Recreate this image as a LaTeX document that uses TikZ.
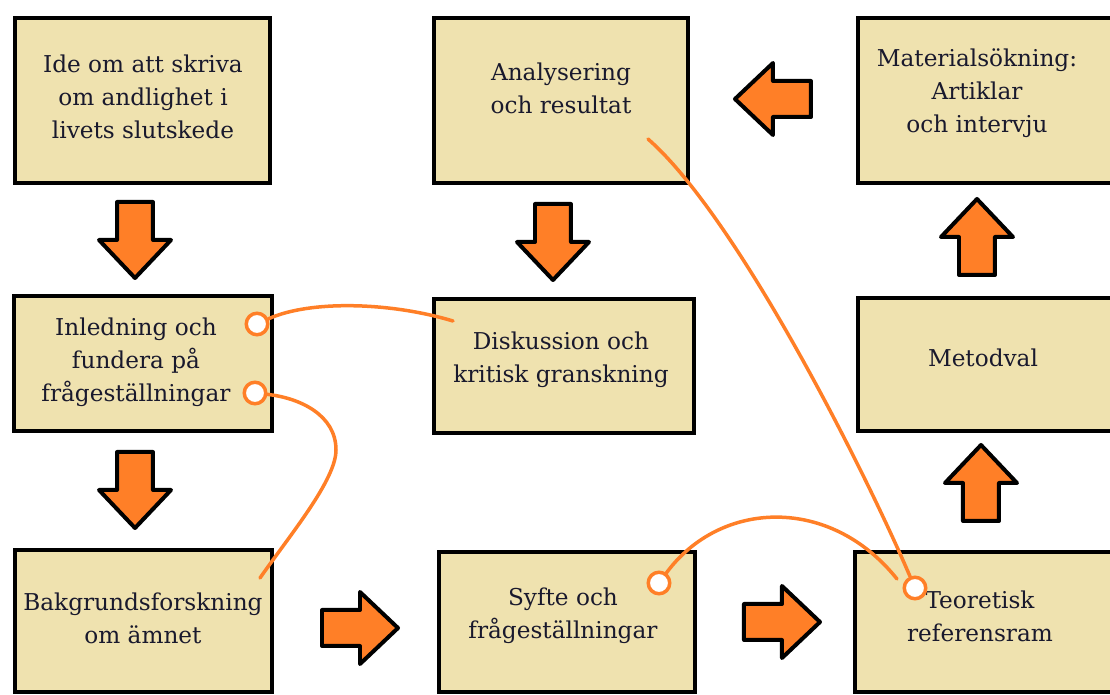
\documentclass[tikz,border=0pt]{standalone}
\usepackage{fontspec}
\setmainfont{DejaVu Serif}
\usepackage{tikz}
\usetikzlibrary{calc}

\definecolor{boxfill}{RGB}{239,226,175}
\definecolor{arrowor}{RGB}{255,127,39}
\definecolor{txtcol}{RGB}{25,25,45}

\tikzset{
	blockarrow/.pic={
		\filldraw[fill=arrowor, draw=black, line width=0.04cm, line join=round]
		(-0.38,-0.18) -- (0,-0.18) -- (0,-0.36) -- (0.38,0) -- (0,0.36) -- (0,0.18) -- (-0.38,0.18) -- cycle;
	}
}

\begin{document}
\begin{tikzpicture}[
	box/.style={draw=black, fill=boxfill, line width=0.04cm, rectangle, inner sep=0pt},
	txt/.style={align=center, text=txtcol, font=\fontsize{6.6}{9.4}\selectfont},
	link/.style={draw=arrowor, line width=0.035cm, line cap=round},
	dot/.style={circle, draw=arrowor, fill=white, line width=0.035cm, minimum size=0.215cm, inner sep=0pt}]
	
	\useasboundingbox (0,0) rectangle (11.1,6.95);
	\clip (0,0) rectangle (11.1,6.95);
	
	% boxes
	\node[box, minimum width=2.55cm, minimum height=1.65cm] (ide) at (1.425,5.945) {};
	\node[box, minimum width=2.54cm, minimum height=1.65cm] (ana) at (5.61,5.945) {};
	\node[box, minimum width=2.67cm, minimum height=1.65cm] (mat) at (9.915,5.945) {};
	\node[box, minimum width=2.58cm, minimum height=1.35cm] (inl) at (1.43,3.315) {};
	\node[box, minimum width=2.60cm, minimum height=1.34cm] (dis) at (5.64,3.29) {};
	\node[box, minimum width=2.67cm, minimum height=1.33cm] (met) at (9.915,3.305) {};
	\node[box, minimum width=2.57cm, minimum height=1.425cm] (bak) at (1.435,0.7375) {};
	\node[box, minimum width=2.56cm, minimum height=1.405cm] (syf) at (5.67,0.7275) {};
	\node[box, minimum width=2.70cm, minimum height=1.405cm] (teo) at (9.90,0.7275) {};
	
	% texts
	\node[txt] (ideT) at (1.43,5.98) {Ide om att skriva\\om andlighet i\\livets slutskede};
	\node[txt] (anaT) at (5.61,6.07) {Analysering\\och resultat};
	\node[txt] (matT) at (9.77,6.02) {Materialsökning:\\Artiklar\\och intervju};
	\node[txt] (inlT) at (1.36,3.33) {Inledning och\\fundera på\\frågeställningar};
	\node[txt] (disT) at (5.61,3.35) {Diskussion och\\kritisk granskning};
	\node[txt] (metT) at (9.83,3.37) {Metodval};
	\node[txt] (bakT) at (1.43,0.77) {Bakgrundsforskning\\om ämnet};
	\node[txt] (syfT) at (5.63,0.79) {Syfte och\\frågeställningar};
	\node[txt] (teoT) at (9.80,0.79) {Teoretisk\\referensram};
	
	% block arrows
	\foreach \x/\y/\r in {1.35/4.55/-90, 5.53/4.53/-90, 1.35/2.05/-90, 3.60/0.67/0, 7.82/0.73/0, 7.73/5.96/180, 9.77/4.58/90, 9.81/2.12/90}
		\pic[rotate=\r] at (\x,\y) {blockarrow};
	
	% orange links
	\node[dot] (c1) at (2.57,3.71) {};
	\node[dot] (c2) at (2.55,3.02) {};
	\node[dot] (c3) at (6.59,1.12) {};
	\coordinate (e1) at (4.53,3.74);
	\coordinate (e2) at (2.60,1.17);
	\coordinate (e3) at (8.97,1.16);
	\coordinate (e4) at (6.48,5.56);
	
	\draw[link] (c1) .. controls (3.10,3.95) and (3.90,3.93) .. (e1);
	\draw[link] (c2) .. controls (3.00,2.97) and (3.36,2.80) .. (3.36,2.45) .. controls (3.36,2.15) and (2.90,1.60) .. (e2);
	\draw[link] (c3) .. controls (7.20,1.95) and (8.30,2.00) .. (e3);
	\node[dot] (c4) at (9.15,1.07) {};
	\draw[link] (e4) .. controls (7.35,4.80) and (8.60,2.35) .. (c4);
	
\end{tikzpicture}
\end{document}
